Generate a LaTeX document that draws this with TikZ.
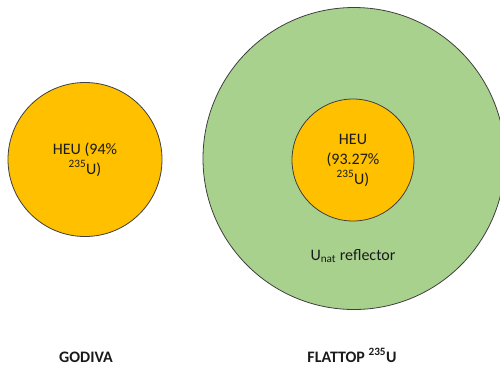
\documentclass[tikz,border=0pt]{standalone}
\usepackage{fontspec}
\setmainfont{Carlito}
\definecolor{HEUGold}{HTML}{FFC000}
\definecolor{NatGreen}{HTML}{A9D18E}
\definecolor{RimGray}{HTML}{3F3F3F}
\definecolor{InkBlack}{HTML}{1A1A1A}

\begin{document}
\begin{tikzpicture}[x=1pt,y=-1pt,line width=0.8pt,
    core/.style={circle,draw=RimGray,fill=HEUGold,inner sep=0pt,align=center,
      text=InkBlack,font=\fontsize{16}{20}\selectfont},
    shell/.style={circle,draw=RimGray,fill=NatGreen,inner sep=0pt},
    caption/.style={text=InkBlack,inner sep=0pt,anchor=base,
      font=\fontsize{16}{20}\selectfont\bfseries}]
  \useasboundingbox (0,0) rectangle (500,365);
  \clip (0,0) rectangle (500,365);

  % Godiva bare sphere
  \node[core,minimum size=154pt] (godiva) at (85,159.5) {HEU (94\%\\\textsuperscript{235}U)};
  \node[caption] (godivalab) at (86,362) {GODIVA};

  % Flattop reflected sphere
  \node[shell,minimum size=302pt] (reflector) at (354,158.5) {};
  \node[core,minimum size=122pt] (flatcore) at (353,160) {HEU\\(93.27\%\\\textsuperscript{235}U)};
  \node[text=InkBlack,font=\fontsize{16}{20}\selectfont] (unat) at (353,256) {U\textsubscript{nat} reflector};
  \node[caption] (flatlab) at (352,362) {FLATTOP \textsuperscript{235}U};
\end{tikzpicture}
\end{document}
